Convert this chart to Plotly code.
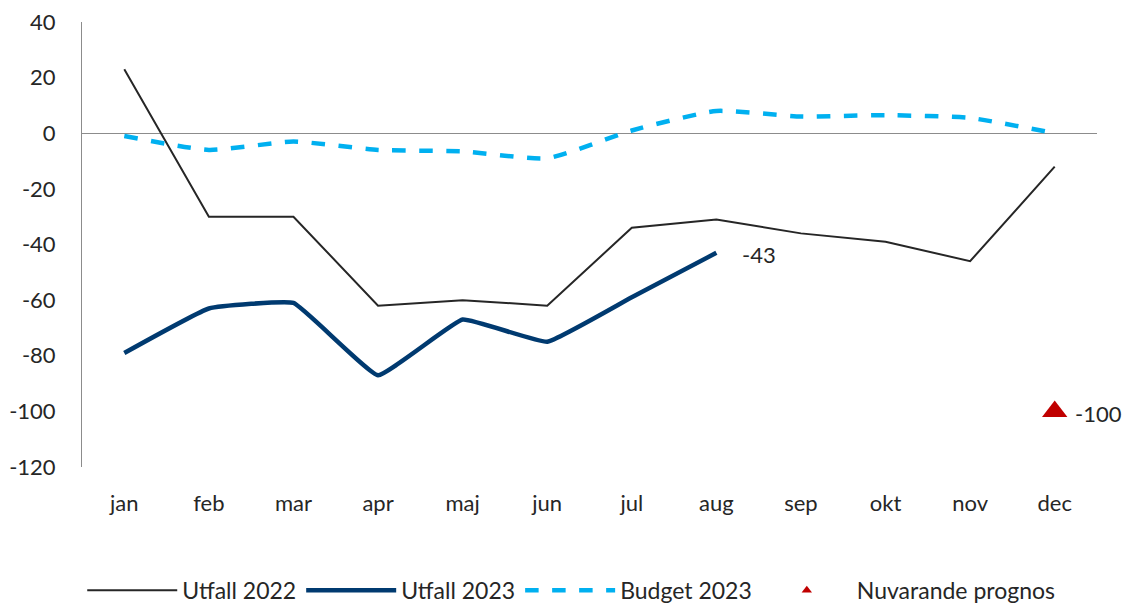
import plotly.graph_objects as go

months = ["jan", "feb", "mar", "apr", "maj", "jun", "jul", "aug", "sep", "okt", "nov", "dec"]
utfall_2022 = [23, -30, -30, -62, -60, -62, -34, -31, -36, -39, -46, -12]
utfall_2023 = [-79, -63, -61, -87, -67, -75, -59, -43]
budget_2023 = [-1, -6, -3, -6, -6.5, -9, 1, 8, 6, 6.5, 5.5, 0]
prognos_month = ["dec"]
prognos_value = [-100]
y_ticks = [40, 20, 0, -20, -40, -60, -80, -100, -120]
y_tick_labels = [str(v) for v in y_ticks]

font_family = "Lato, 'Open Sans', sans-serif"
text_color = "#262626"

fig = go.Figure()
fig.add_trace(go.Scatter(x=months, y=utfall_2022, mode="lines", name="Utfall 2022",
                         line=dict(color="#262626", width=2)))
fig.add_trace(go.Scatter(x=months[:len(utfall_2023)], y=utfall_2023, mode="lines", name="Utfall 2023",
                         line=dict(color="#003A70", width=4.5, shape="spline", smoothing=0.3)))
fig.add_trace(go.Scatter(x=months, y=budget_2023, mode="lines", name="Budget 2023",
                         line=dict(color="#00B0F0", width=4.5, dash="dash", shape="spline", smoothing=0.5)))
fig.add_trace(go.Scatter(x=prognos_month, y=prognos_value, mode="markers", showlegend=False,
                         marker=dict(symbol="triangle-up", size=22, color="#C00000")))
fig.add_trace(go.Scatter(x=[None], y=[None], mode="markers", name="Nuvarande prognos",
                         marker=dict(symbol="triangle-up", size=9, color="#C00000")))

fig.add_annotation(x=months[len(utfall_2023) - 1], y=utfall_2023[-1], text=str(utfall_2023[-1]),
                   showarrow=False, xanchor="left", xshift=24, yshift=-2,
                   font=dict(size=22, color=text_color, family=font_family))
fig.add_annotation(x=prognos_month[0], y=prognos_value[0], text=str(prognos_value[0]),
                   showarrow=False, xanchor="left", xshift=18, yshift=-2,
                   font=dict(size=22, color=text_color, family=font_family))

fig.update_layout(
    width=1126, height=607,
    margin=dict(l=82, r=29, t=22, b=140, autoexpand=False),
    paper_bgcolor="white", plot_bgcolor="white",
    font=dict(family=font_family, size=22, color=text_color),
    showlegend=True,
    legend=dict(orientation="h", x=0.482, xanchor="center", y=-0.277, yanchor="middle",
                font=dict(size=23, color=text_color), itemwidth=90, tracegroupgap=0),
)
fig.update_xaxes(type="category", categoryorder="array", categoryarray=months,
                 range=[-0.5, 11.5], showgrid=False, showline=False, zeroline=False,
                 automargin=False,
                 ticks="outside", ticklen=17, tickcolor="rgba(0,0,0,0)",
                 tickfont=dict(size=22, color=text_color))
fig.update_yaxes(range=[-120, 40], tickvals=y_ticks, ticktext=y_tick_labels, showgrid=False,
                 automargin=False,
                 showline=True, linecolor="#8c8c8c", linewidth=1,
                 zeroline=True, zerolinecolor="#8c8c8c", zerolinewidth=1,
                 ticks="outside", ticklen=21, tickcolor="rgba(0,0,0,0)",
                 tickfont=dict(size=22, color=text_color))

fig.write_html("out.html", config={"displayModeBar": False},
               post_script="document.body.style.margin='0';")
